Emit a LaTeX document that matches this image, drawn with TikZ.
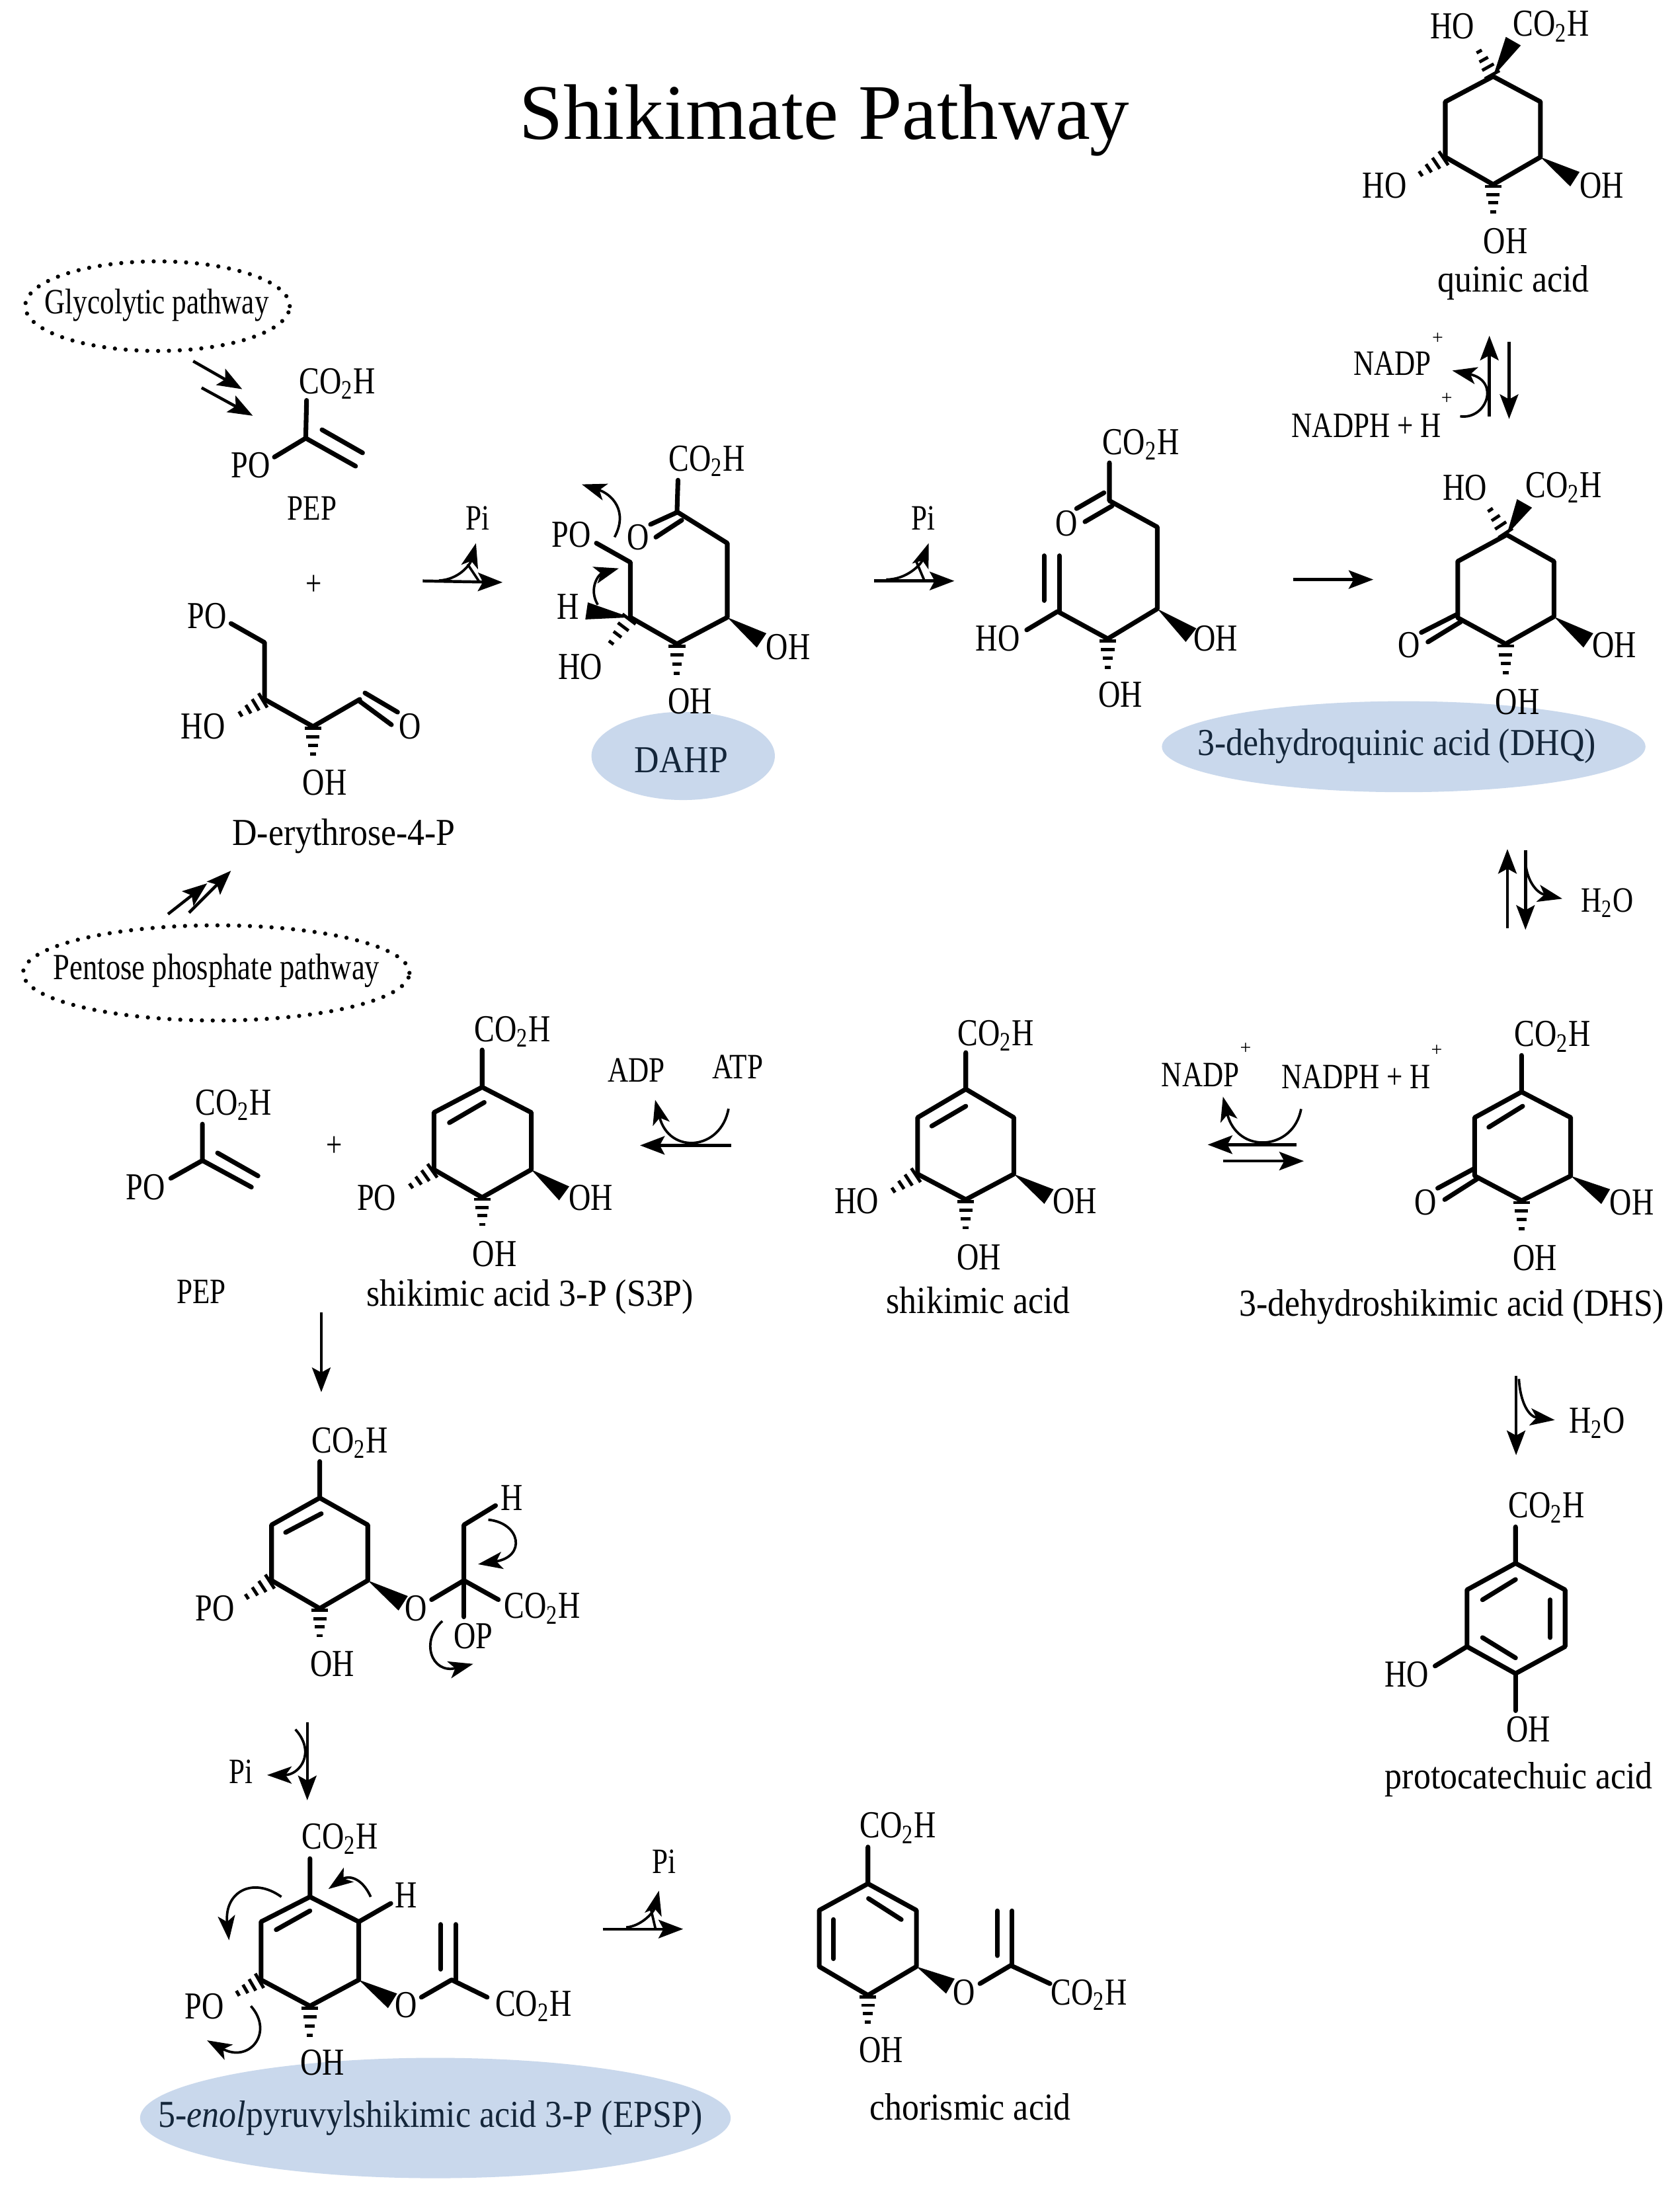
\documentclass[tikz,border=0pt]{standalone}
\usepackage{fontspec}
\setmainfont{Liberation Serif}
\newfontfamily\atomfont[FakeStretch=0.8]{Liberation Serif}
\newfontfamily\namefont[FakeStretch=0.9]{Liberation Serif}
\usetikzlibrary{arrows.meta,calc,shapes.geometric}
\definecolor{paleblue}{HTML}{C9D8EC}
\definecolor{inkblue}{HTML}{14263A}
\newcommand{\cooh}{CO\textsubscript{2}H}
\newcommand{\wato}{H\textsubscript{2}O}
\tikzset{
  atom/.style={inner sep=0pt,font=\atomfont\fontsize{15.5}{16}\selectfont},
  reagent/.style={inner sep=0pt,font=\atomfont\fontsize{14.5}{15}\selectfont},
  caption/.style={inner sep=0pt,font=\namefont\fontsize{15.5}{16}\selectfont},
  plussign/.style={inner sep=0pt,font=\fontsize{8}{8}\selectfont},
  bond/.style={line width=1.9pt,line join=round,line cap=round},
  react/.style={line width=1.2pt,-{Stealth[length=10pt,width=7.5pt,inset=2pt]}},
  curly/.style={line width=1pt,-{Stealth[length=10pt,width=7pt,inset=2.5pt]}},
  highlight/.style={ellipse,fill=paleblue,inner sep=0pt},
  source/.style={ellipse,draw,line width=1.7pt,line cap=round,dash pattern=on 0pt off 4.4pt,inner sep=0pt}
}
% wedge: narrow end, wide end
\newcommand{\wedgebond}[2]{\fill (#1) -- ($(#2)!3.5pt!90:(#1)$) -- ($(#2)!3.5pt!-90:(#1)$) -- cycle;}
% hashed: ring atom, free end
\newcommand{\hashbond}[2]{%
  \foreach \hpos/\hwd in {0.06/3.4pt,0.32/2.7pt,0.58/2pt,0.86/1.2pt}{
    \coordinate (hh) at ($(#1)!\hpos!(#2)$);
    \draw[line width=1.3pt] ($(hh)!\hwd!90:(#2)$) -- ($(hh)!\hwd!-90:(#2)$);
  }}
\begin{document}
\begin{tikzpicture}[x=0.02cm,y=-0.02cm]
  \useasboundingbox (0,0) rectangle (1200,1568);
  \fill[white] (0,0) rectangle (1200,1568);

  \node[inner sep=0pt,font=\fontsize{32}{34}\selectfont] (title) at (589,86) {Shikimate Pathway};

  % highlights go under the atoms
  \node[highlight,minimum width=2.62cm,minimum height=1.26cm] (dahp) at (488,540) {};
  \node[highlight,minimum width=6.91cm,minimum height=1.3cm] (dhq) at (1002.7,533.4) {};
  \node[highlight,minimum width=8.44cm,minimum height=1.72cm] (epsp) at (311,1513) {};
  \node[caption,text=inkblue] (dahptext) at (486.6,543) {DAHP};
  \node[caption,text=inkblue] (dhqtext) at (997.8,533) {3-dehydroquinic acid (DHQ)};
  \node[caption,text=inkblue] (epsptext) at (307.5,1513) {5-\textit{enol}pyruvylshikimic acid 3-P (EPSP)};

  \node[source,minimum width=3.78cm,minimum height=1.28cm] (glyco) at (112.5,218.7) {};
  \node[source,minimum width=5.52cm,minimum height=1.36cm] (pentose) at (154.5,695) {};
  \node[reagent] (glycotext) at (112,218) {Glycolytic pathway};
  \node[reagent] (pentosetext) at (154.7,693.5) {\fontsize{15}{15}\selectfont Pentose phosphate pathway};

  % PEP top
  \draw[bond] (219,286) -- (218.4,313) -- (196,326.5);
  \draw[bond] (230,307) -- (259,323.5);
  \draw[bond] (218.4,313) -- (254,333);
  \node[atom] (pepacid) at (241,274) {\cooh};
  \node[atom] (pepPO) at (179,332.5) {PO};
  \node[reagent] (peplabel) at (223,363) {PEP};
  \node[reagent] (plusa) at (224,418) {+};

  % erythrose
  \draw[bond] (165,445.4) -- (189,459) -- (189,499.6) -- (223.6,519) -- (257,499.6);
  \draw[bond] (260.7,495) -- (284,508.7);
  \draw[bond] (257,501) -- (279.6,517.7);
  \hashbond{189,499.6}{169,511.7}
  \hashbond{223.6,519}{223.6,542}
  \node[atom] (eryPO) at (148,440) {PO};
  \node[atom] (eryO) at (293,519) {O};
  \node[atom] (eryHO) at (145,519) {HO};
  \node[atom] (eryOH) at (232,559) {OH};
  \node[caption] (erylabel) at (245.6,597.5) {D-erythrose-4-P};

  % DAHP
  \draw[bond] (484.3,343) -- (483.6,365.6) -- (519.5,388) -- (519.5,441) -- (483.6,460) -- (450.3,441) -- (450.3,401.7) -- (426,388);
  \draw[bond] (483.6,366) -- (464.7,374.6);
  \draw[bond] (487,371.6) -- (468.5,383.7);
  \wedgebond{519.5,441}{544,457.5}
  \wedgebond{450.3,441}{419,436.4}
  \hashbond{450.3,441}{434.4,462}
  \hashbond{483.6,460}{483.6,484.6}
  \node[atom] (dahpacid) at (505,329.5) {\cooh};
  \node[atom] (dahpPO) at (408,382) {PO};
  \node[atom] (dahpO) at (456,383.7) {O};
  \node[atom] (dahpH) at (406,433.4) {H};
  \node[atom] (dahpHO) at (414.4,476.4) {HO};
  \node[atom] (dahpOHr) at (563,462) {OH};
  \node[atom] (dahpOHb) at (493,501) {OH};
  \draw[curly] (439,383.7) .. controls (449,365) and (437,353) .. (415.6,346);
  \draw[curly] (427,432) .. controls (420,420) and (428,410) .. (442,406);

  % open chain after second loss
  \draw[bond] (792.5,330.6) -- (792.5,357.7) -- (826.7,376.5) -- (826.7,434.9) -- (791.3,456.3) -- (755.5,436.8) -- (733.4,450);
  \draw[bond] (788.6,352) -- (769,363.3);
  \draw[bond] (794.4,361.4) -- (775,372.7);
  \draw[bond] (745.8,397) -- (745.8,429);
  \draw[bond] (756.7,397) -- (756.7,436.8);
  \wedgebond{826.7,434.9}{850.8,453.7}
  \hashbond{791.3,456.3}{791.3,480}
  \node[atom] (openacid) at (815,317.4) {\cooh};
  \node[atom] (openO) at (762,374) {O};
  \node[atom] (openHO) at (712.8,456.3) {HO};
  \node[atom] (openOHr) at (868.3,456.3) {OH};
  \node[atom] (openOHb) at (800.3,496) {OH};

  % DHQ
  \draw[bond] (1076.3,382) -- (1110,401) -- (1110,440.5) -- (1075.5,460) -- (1041.3,441.3) -- (1041.3,401) -- cycle;
  \draw[bond] (1041.3,438.6) -- (1015.3,451.8);
  \draw[bond] (1043.3,444.3) -- (1020,458.6);
  \wedgebond{1076.3,382}{1089,359.6}
  \wedgebond{1110,440.5}{1134.6,457.5}
  \hashbond{1076.3,382}{1062.7,361.4}
  \hashbond{1075.5,460}{1075.5,483.8}
  \node[atom] (dhqHO) at (1046.4,348.3) {HO};
  \node[atom] (dhqacid) at (1117,348.3) {\cooh};
  \node[atom] (dhqO) at (1006.3,461) {O};
  \node[atom] (dhqOHr) at (1153.3,461) {OH};
  \node[atom] (dhqOHb) at (1084,501.5) {OH};

  % quinic acid
  \draw[bond] (1066.6,54.6) -- (1100.4,72.7) -- (1100.4,112.2) -- (1066.6,131.8) -- (1032.4,112.2) -- (1032.4,72.7) -- cycle;
  \wedgebond{1066.6,54.6}{1081,29.4}
  \wedgebond{1100.4,112.2}{1125,128}
  \hashbond{1066.6,54.6}{1055,33.9}
  \hashbond{1032.4,112.2}{1012,126}
  \hashbond{1066.6,131.8}{1066.6,154.4}
  \node[atom] (quinHOt) at (1037.4,18.8) {HO};
  \node[atom] (quinacid) at (1108,18.8) {\cooh};
  \node[atom] (quinHOl) at (989,132.5) {HO};
  \node[atom] (quinOHr) at (1144.3,132.5) {OH};
  \node[atom] (quinOHb) at (1075.5,172.4) {OH};
  \node[caption] (quinlabel) at (1081,202) {quinic acid};

  % DHS
  \draw[bond] (1086.9,753.9) -- (1086.9,780) -- (1122,798.3) -- (1122,840) -- (1086.9,857.7) -- (1053.4,840) -- (1053.4,798.3) -- (1086.9,780);
  \draw[bond] (1063.5,805.2) -- (1087.7,790.2);
  \draw[bond] (1053.4,834.6) -- (1027,848.8);
  \draw[bond] (1056.2,841.5) -- (1032,856.9);
  \wedgebond{1122,840}{1147,854.8}
  \hashbond{1086.9,857.7}{1086.9,881}
  \node[atom] (dhsacid) at (1109,740.5) {\cooh};
  \node[atom] (dhsO) at (1018.2,858.9) {O};
  \node[atom] (dhsOHr) at (1165.7,858.9) {OH};
  \node[atom] (dhsOHb) at (1096.6,898.5) {OH};
  \node[caption] (dhslabel) at (1037,933.6) {3-dehydroshikimic acid (DHS)};

  % shikimic acid
  \draw[bond] (689.9,751.9) -- (689.9,778) -- (724.2,798.3) -- (724.2,838.7) -- (689.9,856.9) -- (655.5,838.7) -- (655.5,798.3) -- (689.9,778);
  \draw[bond] (665.6,804.4) -- (689.9,790.2);
  \wedgebond{724.2,838.7}{749.3,854.8}
  \hashbond{655.5,838.7}{635.4,852}
  \hashbond{689.9,856.9}{689.9,880.3}
  \node[atom] (shikacid) at (711.3,739.7) {\cooh};
  \node[atom] (shikHO) at (612,858) {HO};
  \node[atom] (shikOHr) at (767.8,858) {OH};
  \node[atom] (shikOHb) at (699.2,898) {OH};
  \node[caption] (shiklabel) at (698.8,928.7) {shikimic acid};

  % S3P
  \draw[bond] (344.4,750) -- (344.4,776.6) -- (379.5,794.7) -- (379.5,835.5) -- (344.4,855.4) -- (310,835.5) -- (310,794.7) -- (344.4,776.6);
  \draw[bond] (321,802) -- (345.9,787.5);
  \wedgebond{379.5,835.5}{403,852.5}
  \hashbond{310,835.5}{291,849}
  \hashbond{344.4,855.4}{344.4,877.8}
  \node[atom] (sppacid) at (366,737) {\cooh};
  \node[atom] (sppPO) at (269,855.4) {PO};
  \node[atom] (sppOHr) at (422,855.4) {OH};
  \node[atom] (sppOHb) at (353.4,896) {OH};
  \node[caption] (spplabel) at (378.7,926.6) {shikimic acid 3-P (S3P)};

  % PEP lower
  \draw[bond] (144.6,803) -- (144.6,829) -- (122,841.7);
  \draw[bond] (155.4,823.6) -- (184.3,840);
  \draw[bond] (144.6,829) -- (179.6,848);
  \node[atom] (pepbacid) at (167,789.3) {\cooh};
  \node[atom] (pepbPO) at (104,848) {PO};
  \node[reagent] (pepblabel) at (143.8,923) {PEP};
  \node[reagent] (plusb) at (239,819) {+};

  % tetrahedral intermediate
  \draw[bond] (228.4,1044) -- (228.4,1070) -- (262.7,1089.3) -- (262.7,1129) -- (228.4,1149) -- (194,1129) -- (194,1089.3) -- (228.4,1070);
  \draw[bond] (204,1094.7) -- (229.5,1081.3);
  \draw[bond] (308.3,1142.7) -- (331.4,1129) -- (331.4,1089.3) -- (354,1075.5);
  \draw[bond] (331.4,1129) -- (356,1142.7);
  \draw[bond] (331.4,1129) -- (331.4,1155);
  \wedgebond{262.7,1129}{288,1145.3}
  \hashbond{194,1129}{173.5,1142.4}
  \hashbond{228.4,1149}{228.4,1171.6}
  \node[atom] (tetacid) at (250,1030.7) {\cooh};
  \node[atom] (tetPO) at (153.6,1149) {PO};
  \node[atom] (tetO) at (297,1149) {O};
  \node[atom] (tetH) at (365.7,1070) {H};
  \node[atom] (tetacidb) at (387.4,1149) {\cooh};
  \node[atom] (tetOP) at (338,1168.7) {OP};
  \node[atom] (tetOH) at (237.4,1188.6) {OH};
  \draw[curly] (348.8,1085.6) .. controls (372,1088) and (376,1112) .. (341.5,1117.4);
  \draw[curly] (316,1158) .. controls (300,1172) and (308,1196) .. (338,1188.6);

  % EPSP
  \draw[bond] (221.4,1327.7) -- (221.4,1355) -- (256.3,1372.8) -- (256.3,1414.3) -- (221.4,1433) -- (186.5,1414.3) -- (186.5,1372.8) -- (221.4,1355);
  \draw[bond] (197.3,1378.5) -- (221.4,1365);
  \draw[bond] (256.3,1372.8) -- (279.2,1359.7);
  \draw[bond] (301,1426.7) -- (322.6,1414.3) -- (348,1426.7);
  \draw[bond] (314.7,1374.7) -- (314.7,1406.7);
  \draw[bond] (325.5,1374.7) -- (325.5,1414.3);
  \wedgebond{256.3,1414.3}{280.4,1429.3}
  \hashbond{186.5,1414.3}{167.2,1425.5}
  \hashbond{221.4,1433}{221.4,1457.5}
  \node[atom] (epspacid) at (243,1313.7) {\cooh};
  \node[atom] (epspH) at (290,1354) {H};
  \node[atom] (epspO) at (290,1432.3) {O};
  \node[atom] (epspacidb) at (381,1433) {\cooh};
  \node[atom] (epspPO) at (146,1433) {PO};
  \node[atom] (epspOH) at (230.3,1473.3) {OH};
  \draw[curly] (201,1355) .. controls (180,1340) and (160,1352) .. (163.6,1386);
  \draw[curly] (264.8,1355) .. controls (258,1340) and (248,1340) .. (234.6,1349.4);
  \draw[curly] (179.2,1433) .. controls (196,1452) and (178,1474) .. (147.9,1457.5);

  % chorismic acid
  \draw[bond] (620,1319.4) -- (620,1345.6) -- (654.6,1364.6) -- (654.6,1404.8) -- (620,1425.3) -- (585.2,1404.8) -- (585.2,1364.6) -- (620,1345.6);
  \draw[bond] (620.4,1356.2) -- (643.8,1371.2);
  \draw[bond] (595.4,1371.2) -- (595.4,1399.2);
  \draw[bond] (700,1417) -- (722,1404) -- (750,1417);
  \draw[bond] (712.5,1365) -- (712.5,1397);
  \draw[bond] (723,1365) -- (723,1404);
  \wedgebond{654.6,1404.8}{678.9,1418.8}
  \hashbond{620,1425.3}{620,1447.7}
  \node[atom] (choracid) at (641.6,1305.8) {\cooh};
  \node[atom] (chorO) at (688.6,1423.5) {O};
  \node[atom] (choracidb) at (778,1425) {\cooh};
  \node[atom] (chorOH) at (629.4,1464.5) {OH};
  \node[caption] (chorlabel) at (693,1505) {chorismic acid};

  % protocatechuic acid
  \draw[bond] (1082.6,1090.7) -- (1082.6,1116.7) -- (1118,1135.7) -- (1118,1176.2) -- (1082.6,1195.5) -- (1047.9,1176.2) -- (1047.9,1135.7) -- (1082.6,1116.7);
  \draw[bond] (1059,1142.8) -- (1082.6,1128.3);
  \draw[bond] (1107.3,1142.8) -- (1107.3,1169.8);
  \draw[bond] (1059,1169.8) -- (1082.6,1184.3);
  \draw[bond] (1047.9,1176.2) -- (1025.1,1190.1);
  \draw[bond] (1082.6,1195.5) -- (1082.6,1222);
  \node[atom] (protacid) at (1104.8,1077) {\cooh};
  \node[atom] (protHO) at (1004.8,1196) {HO};
  \node[atom] (protOH) at (1091.9,1235.5) {OH};
  \node[caption] (protlabel) at (1085,1271) {protocatechuic acid};

  % reagents
  \node[reagent] (pia) at (341,370) {Pi};
  \node[reagent] (pib) at (659.5,370) {Pi};
  \node[reagent] (pic) at (172,1265.5) {Pi};
  \node[reagent] (pid) at (474.4,1330) {Pi};
  \node[reagent] (nadpa) at (994.7,259.8) {NADP};
  \node[plussign] (nadpaplus) at (1027,242) {+};
  \node[reagent] (nadpha) at (976,304) {NADPH + H};
  \node[plussign] (nadphaplus) at (1033.5,285) {+};
  \node[reagent] (nadpb) at (857.5,768) {NADP};
  \node[plussign] (nadpbplus) at (889.8,749) {+};
  \node[reagent] (nadphb) at (968.6,769.2) {NADPH + H};
  \node[plussign] (nadphbplus) at (1026.3,750.6) {+};
  \node[reagent] (adp) at (454.6,764.7) {ADP};
  \node[reagent] (atp) at (527,762) {ATP};
  \node[reagent] (watera) at (1148.3,644.8) {\wato};
  \node[atom] (waterb) at (1141,1016.4) {\wato};

  % free ends of the reaction arrows
  \coordinate (glya) at (138,258);   \coordinate (glyb) at (173,278);
  \coordinate (glyc) at (144,277);   \coordinate (glyd) at (180.6,297);
  \coordinate (pena) at (120,653);   \coordinate (penb) at (148,631);
  \coordinate (penc) at (135,652);   \coordinate (pend) at (165,622);
  \coordinate (ona) at (302,415);    \coordinate (onb) at (359,416);
  \coordinate (twoa) at (624.5,415); \coordinate (twob) at (681.7,415);
  \coordinate (tra) at (923.9,414);  \coordinate (trb) at (981,414);
  \coordinate (qua) at (1063.9,297.4); \coordinate (qub) at (1063.9,239.8);
  \coordinate (quc) at (1078,244);   \coordinate (qud) at (1078,299.3);
  \coordinate (dea) at (1076.8,663); \coordinate (deb) at (1076.8,606.5);
  \coordinate (dec) at (1089.7,607.3); \coordinate (ded) at (1089.7,664.2);
  \coordinate (dra) at (926,817.7);  \coordinate (drb) at (862.7,817.7);
  \coordinate (drc) at (873.6,829.4); \coordinate (drd) at (931.4,829.4);
  \coordinate (ata) at (522.2,818.2); \coordinate (atb) at (457.2,818.2);
  \coordinate (doa) at (229.5,937.5); \coordinate (dob) at (229.5,994.5);
  \coordinate (loa) at (219.5,1230.5); \coordinate (lob) at (219.5,1286);
  \coordinate (cha) at (430.5,1378); \coordinate (chb) at (488,1378);
  \coordinate (pra) at (1083,982.6); \coordinate (prb) at (1083,1039.5);

  \draw[react] (glya) -- (glyb);
  \draw[react] (glyc) -- (glyd);
  \draw[react] (pena) -- (penb);
  \draw[react] (penc) -- (pend);
  \draw[react] (ona) -- (onb);
  \draw[react] (twoa) -- (twob);
  \draw[react] (tra) -- (trb);
  \draw[react] (qua) -- (qub);
  \draw[react] (quc) -- (qud);
  \draw[react] (dea) -- (deb);
  \draw[react] (dec) -- (ded);
  \draw[react] (dra) -- (drb);
  \draw[react] (drc) -- (drd);
  \draw[react] (ata) -- (atb);
  \draw[react] (doa) -- (dob);
  \draw[react] (loa) -- (lob);
  \draw[react] (cha) -- (chb);
  \draw[react] (pra) -- (prb);

  % curved side arrows on the reactions
  \draw[curly] (313.6,414.7) .. controls (328,414) and (336,403) .. (340,388);
  \draw[line width=1pt] (334,403) -- (342,415);
  \draw[curly] (633,414) .. controls (648,414) and (658,403) .. (663.4,388);
  \draw[line width=1pt] (654.5,401) -- (660,414);
  \draw[curly] (447.3,1376.8) .. controls (458,1376) and (467,1366) .. (470.7,1350.6);
  \draw[line width=1pt] (464.5,1361.8) -- (468.2,1377.7);
  \draw[curly] (211,1235.4) .. controls (226,1252) and (214,1268) .. (190.8,1268);
  \draw[curly] (1043,297.4) .. controls (1062,300) and (1072,272) .. (1037.4,264.7);
  \draw[curly] (520.4,792) .. controls (515,822) and (478,825) .. (468,785.7);
  \draw[curly] (929.4,792.2) .. controls (924,822) and (884,825) .. (873.6,783.4);
  \draw[curly] (1089.7,616.5) .. controls (1091,630) and (1098,638) .. (1116,642);
  \draw[curly] (1085,985) .. controls (1086,1002) and (1092,1012) .. (1110.6,1014.4);
\end{tikzpicture}
\end{document}
